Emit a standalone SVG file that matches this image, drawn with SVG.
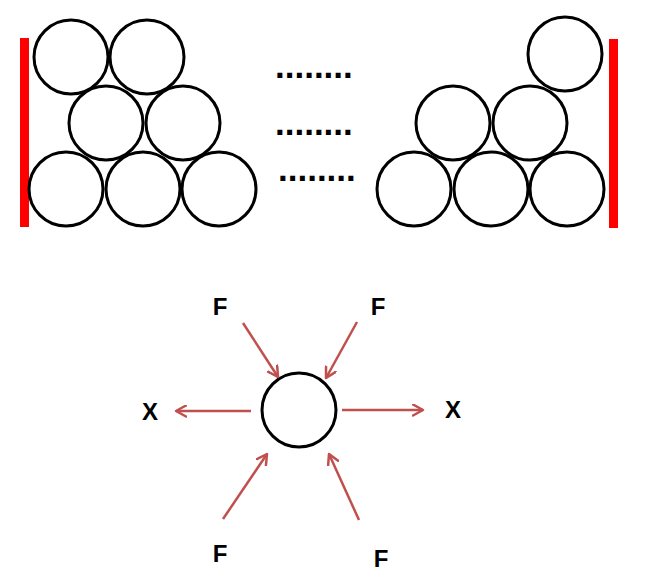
<svg xmlns="http://www.w3.org/2000/svg" width="655" height="578" viewBox="0 0 655 578">
  <style>
    .ball { fill: #ffffff; stroke: #000000; stroke-width: 3; }
    .wall { fill: #ff0000; }
    .dots { font-family: "Liberation Sans", Arial, sans-serif; font-weight: bold; font-size: 35px; fill: #000000; }
    .lbl { font-family: "Liberation Sans", Arial, sans-serif; font-weight: bold; font-size: 24px; fill: #000000; text-anchor: middle; }
    .arrow { stroke: #c0504d; stroke-width: 2.5; fill: none; marker-end: url(#head); }
  </style>
  <defs>
    <marker id="head" viewBox="0 0 13 13" refX="11" refY="6.5" markerWidth="13" markerHeight="13" markerUnits="userSpaceOnUse" orient="auto">
      <path d="M1,1 L11,6.5 L1,12" fill="none" stroke="#c0504d" stroke-width="2.5" stroke-linecap="round" stroke-linejoin="round"/>
    </marker>
  </defs>
  <rect width="655" height="578" fill="#ffffff"/>

  <g id="left-stack">
    <rect class="wall" x="20" y="38" width="9" height="189"/>
    <circle class="ball" cx="71" cy="57" r="37"/>
    <circle class="ball" cx="147" cy="57" r="37"/>
    <circle class="ball" cx="106" cy="123" r="37"/>
    <circle class="ball" cx="183" cy="123" r="37"/>
    <circle class="ball" cx="66" cy="189" r="37"/>
    <circle class="ball" cx="143" cy="189" r="37"/>
    <circle class="ball" cx="219" cy="189" r="37"/>
  </g>

  <g id="dots">
    <text class="dots" x="275" y="78">........</text>
    <text class="dots" x="275" y="135">........</text>
    <text class="dots" x="278" y="181">........</text>
  </g>

  <g id="right-stack">
    <rect class="wall" x="609" y="39" width="9" height="189"/>
    <circle class="ball" cx="565" cy="54" r="37"/>
    <circle class="ball" cx="453" cy="123" r="37"/>
    <circle class="ball" cx="530" cy="123" r="37"/>
    <circle class="ball" cx="414" cy="189" r="37"/>
    <circle class="ball" cx="491" cy="189" r="37"/>
    <circle class="ball" cx="567" cy="189" r="37"/>
  </g>

  <g id="particle">
    <circle class="ball" cx="299" cy="410" r="37"/>
  </g>

  <g id="connectors">
    <line class="arrow" x1="251" y1="411" x2="176" y2="411"/>
    <line class="arrow" x1="342" y1="410" x2="423" y2="410"/>
    <line class="arrow" x1="243" y1="323" x2="278" y2="377"/>
    <line class="arrow" x1="357" y1="322" x2="326" y2="378"/>
    <line class="arrow" x1="223" y1="519" x2="267" y2="454"/>
    <line class="arrow" x1="359" y1="520" x2="329" y2="454"/>
  </g>

  <g id="labels">
    <text class="lbl" x="220" y="315">F</text>
    <text class="lbl" x="378" y="315">F</text>
    <text class="lbl" x="150" y="420">X</text>
    <text class="lbl" x="453" y="418">X</text>
    <text class="lbl" x="220" y="562">F</text>
    <text class="lbl" x="381" y="567">F</text>
  </g>
</svg>
